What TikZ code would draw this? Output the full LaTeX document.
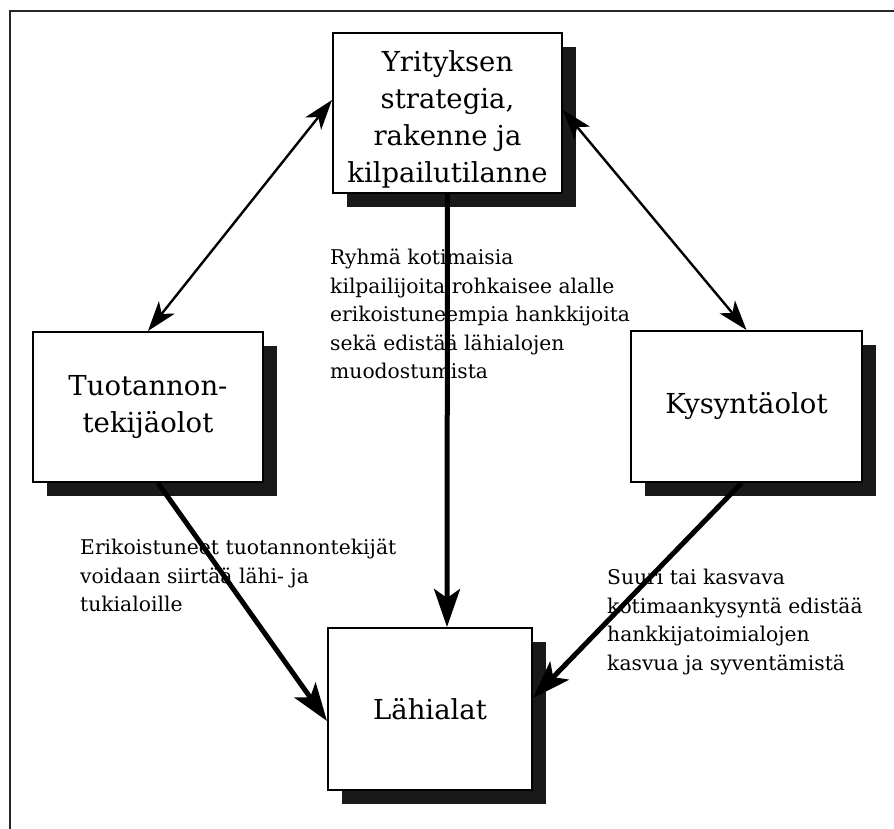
\documentclass[tikz,border=0pt]{standalone}
\usepackage{fontspec}
\setmainfont{DejaVu Serif}
\usetikzlibrary{arrows.meta,shadows}

\tikzset{
  sbox/.style={draw, line width=2pt, fill=white, inner sep=0pt, align=center,
    font=\fontsize{27.5}{37}\selectfont,
    drop shadow={shadow xshift=14pt, shadow yshift=-14pt, fill=black!90, opacity=1}},
  lbl/.style={anchor=north west, align=left, inner sep=0pt,
    font=\fontsize{20.3}{28.5}\selectfont, text=black},
  thinlink/.style={line width=2.4pt, {Stealth[length=30pt,width=20pt,inset=8pt]}-{Stealth[length=30pt,width=20pt,inset=8pt]}},
  thicklink/.style={line width=5pt, -{Stealth[length=38pt,width=26pt,inset=9pt]}},
  frameline/.style={line width=2.4pt, black!85}
}

\begin{document}
\begin{tikzpicture}[x=1pt,y=-1pt]
\useasboundingbox (0,0) rectangle (894,829);

% outer frame (left and top edges)
\coordinate (fbl) at (10,829);
\coordinate (ftl) at (10,11);
\coordinate (ftr) at (894,11);
\draw[frameline] (fbl) -- (ftl) -- (ftr);

% boxes
\node[sbox, minimum width=229pt, minimum height=160pt] (top) at (447.5,113)
  {\raisebox{-6pt}[\height][\depth]{\parbox{229pt}{\centering Yrityksen\\strategia,\\rakenne ja\\kilpailutilanne}}};
\node[sbox, minimum width=230pt, minimum height=150pt] (left) at (148,407)
  {Tuotannon-\\tekijäolot};
\node[sbox, minimum width=231pt, minimum height=151pt] (right) at (746.5,406.5)
  {Kysyntäolot};
\node[sbox, minimum width=204pt, minimum height=162pt] (bottom) at (430,709)
  {Lähialat};

% explanatory texts
\node[lbl] (t1) at (330,249)
  {Ryhmä kotimaisia\\kilpailijoita rohkaisee alalle\\erikoistuneempia hankkijoita\\sekä edistää lähialojen\\muodostumista};
\node[lbl] (t2) at (80,539)
  {Erikoistuneet tuotannontekijät\\voidaan siirtää lähi- ja\\tukialoille};
\node[lbl] (t3) at (607,569)
  {Suuri tai kasvava\\kotimaankysyntä edistää\\hankkijatoimialojen\\kasvua ja syventämistä};

% connectors
\draw[thinlink] ([yshift=13pt]top.west) -- (left.north);
\draw[thinlink] ([yshift=3pt]top.east) -- (right.north);
\draw[thicklink] (top.south) -- ([xshift=17pt]bottom.north);
\draw[thicklink] ([xshift=10pt]left.south) -- ([yshift=-12pt]bottom.west);
\draw[thicklink] ([xshift=-5pt]right.south) -- ([yshift=11pt]bottom.east);
\end{tikzpicture}
\end{document}
